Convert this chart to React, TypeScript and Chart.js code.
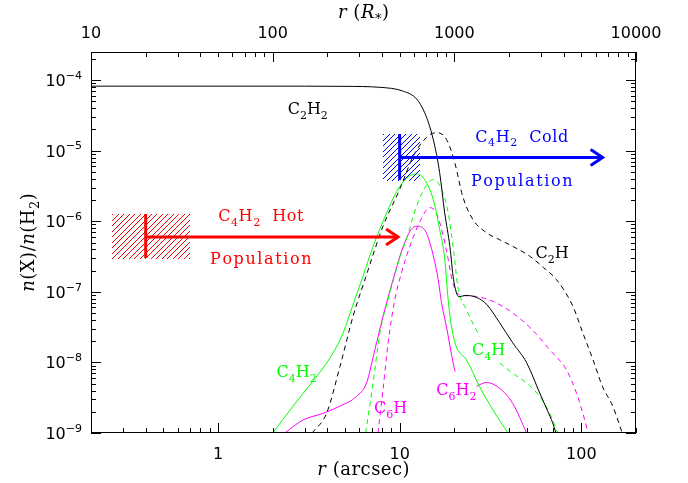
import React, { useEffect, useRef } from 'react';
import { Chart, registerables } from 'chart.js';

Chart.register(...registerables);

// ---- data (x: r in arcsec, y: n(X)/n(H2)) ----
const C2H2_X = [0.2, 1, 3, 5, 7.8, 10.4, 12.4, 13.7, 14.6, 15.6, 16.6, 17.7, 18.9, 19.8, 21.2, 23, 26.6, 30.2, 35.5, 41.9, 50, 59, 65, 69.5, 72.5];
const C2H2_Y = [8.2e-5, 8.2e-5, 8.2e-5, 8.15e-5, 7.9e-5, 7.0e-5, 5.4e-5, 3.5e-5, 2.25e-5, 1.17e-5, 4.9e-6, 1.32e-6, 4.4e-7, 1.5e-7, 8.5e-8, 8.9e-8, 8.3e-8, 6.6e-8, 3.65e-8, 1.9e-8, 9.9e-9, 3.7e-9, 2.1e-9, 1.4e-9, 1e-9];

const C2H_X = [3.3, 3.96, 4.69, 5.54, 6.5, 8.1, 10.0, 11.9, 14.0, 15.9, 18.1, 20.1, 22.3, 25.3, 30, 35.4, 42, 52, 62, 73, 90, 102, 116, 131, 149, 168];
const C2H_Y = [1e-9, 1.9e-9, 8.7e-9, 4.5e-8, 1.6e-7, 8.5e-7, 2.83e-6, 8.4e-6, 1.53e-5, 1.8e-5, 1.45e-5, 6.8e-6, 2.2e-6, 1.06e-6, 6.9e-7, 5.5e-7, 4.4e-7, 3.2e-7, 2.2e-7, 1.49e-7, 6.2e-8, 2.6e-8, 1.09e-8, 4.5e-9, 2.4e-9, 1e-9];

const C4H2_X = [2.0, 2.59, 3.34, 4.13, 4.88, 5.54, 6.3, 7.11, 8.5, 9.64, 10.9, 12.4, 13.7, 15.3, 16.6, 17.7, 18.5, 19.3, 20.5, 23.3, 27.6, 32.7, 39.5];
const C4H2_Y = [1e-9, 2.4e-9, 5.5e-9, 1.15e-8, 2.6e-8, 6.6e-8, 1.7e-7, 4.25e-7, 1.33e-6, 2.65e-6, 4.05e-6, 4.7e-6, 3.9e-6, 2.04e-6, 7.7e-7, 3.0e-7, 7.7e-8, 3.2e-8, 1.68e-8, 1.09e-8, 4.5e-9, 2.1e-9, 1e-9];

const C4H_X = [6.5, 7.14, 7.78, 8.83, 10.2, 10.9, 12.4, 14.0, 15.3, 17.0, 18.5, 19.9, 20.9, 23.3, 27.6, 31, 35.5, 42, 50, 59, 65.7, 70.9, 74];
const C4H_Y = [1e-9, 5.1e-9, 2.6e-8, 9.6e-8, 3.5e-7, 5.6e-7, 1.64e-6, 3.2e-6, 3.9e-6, 2.83e-6, 1.32e-6, 3.5e-7, 1.19e-7, 5.6e-8, 2.33e-8, null, 9.8e-9, 7.0e-9, 5.1e-9, 3.3e-9, 2.1e-9, 1.37e-9, 1e-9];

const C6H2_X = [2.33, 2.94, 3.79, 4.69, 5.79, 6.57, 7.3, 8.1, 9.2, 10.4, 11.6, 12.7, 14.0, 15.3, 16.3, 17.0, 18.1, 19.7, 20.2, 23, 26.5, 30, 35.5, 42, 50];
const C6H2_Y = [1e-9, 1.53e-9, 1.9e-9, 2.4e-9, 3.3e-9, 5.1e-9, 1.5e-8, 4.5e-8, 1.49e-7, 4.2e-7, 7.7e-7, 8.5e-7, 6.9e-7, 3.3e-7, 1.49e-7, 7e-8, 3.2e-8, 9.8e-9, 7.4e-9, null, 4.6e-9, 5.2e-9, 4.3e-9, 2.6e-9, 1e-9];

const C6H_X = [7.6, 8.1, 8.64, 9.4, 10.2, 10.9, 11.9, 13.1, 14.6, 15.9, 17.2, 18.5, 19.3, 20.5, 21.5, 26.5, 32.7, 42, 53.7, 67, 82.7, 94, 102, 109];
const C6H_Y = [1e-9, 4.1e-9, 1.88e-8, 7.7e-8, 1.8e-7, 3.2e-7, 6e-7, 1.06e-6, 1.56e-6, 1.32e-6, 6.9e-7, 2.9e-7, 1.6e-7, 1.0e-7, 9.1e-8, 8.6e-8, 7.3e-8, 5.0e-8, 2.9e-8, 1.51e-8, 7.9e-9, 3.7e-9, 1.9e-9, 1e-9];

// axis ranges & ticks
const X_MIN = 0.2, X_MAX = 200;
const Y_MIN = 1e-9, Y_MAX = 2.5e-4;
const X_TICK_LABELS = [1, 10, 100];
const Y_TICK_EXPONENTS = [-9, -8, -7, -6, -5, -4];
const TOP_TICK_LABELS = [10, 100, 1000, 10000]; // r (R*)
const RSTAR_PER_ARCSEC = 50;

// C4H2 population markers (data coordinates)
const HOT_BAR_X = 0.4, HOT_BOX_X = [0.26, 0.70], HOT_BOX_Y = [3.0e-7, 1.25e-6], HOT_ARROW_Y = 6.0e-7, HOT_TIP_X = 9.8;
const COLD_BAR_X = 10, COLD_BOX_X = [8.1, 12.9], COLD_BOX_Y = [3.9e-6, 1.7e-5], COLD_ARROW_Y = 8e-6, COLD_TIP_X = 131;

type Seg = { t: string; s?: 'sub' | 'sup'; it?: boolean };

const SERIF = '"DejaVu Serif", serif';
const SANS = '"DejaVu Sans", sans-serif';
const GREEN = '#00ff00', MAGENTA = '#ff00ff', RED = '#ff0000', BLUE = '#0000ff';

function segFont(seg: Seg, size: number, fam: string) {
  const sz = seg.s ? Math.round(size * 0.7) : size;
  return `${seg.it ? 'italic ' : ''}${sz}px ${fam}`;
}

function drawRich(ctx: CanvasRenderingContext2D, segs: Seg[], x: number, y: number, size: number, fam: string, color: string, align: 'left' | 'center' | 'right', sp = 0) {
  ctx.save();
  ctx.textBaseline = 'alphabetic';
  ctx.textAlign = 'left';
  ctx.fillStyle = color;
  let total = 0;
  const parts: { ch: string; font: string; w: number; dy: number }[] = [];
  for (const seg of segs) {
    const font = segFont(seg, size, fam);
    ctx.font = font;
    const dy = seg.s === 'sub' ? size * 0.3 : seg.s === 'sup' ? -size * 0.45 : 0;
    for (const ch of seg.t) {
      const w = ctx.measureText(ch).width + sp;
      parts.push({ ch, font, w, dy });
      total += w;
    }
  }
  if (sp) total -= sp;
  let cx = align === 'center' ? x - total / 2 : align === 'right' ? x - total : x;
  for (const p of parts) {
    ctx.font = p.font;
    ctx.fillText(p.ch, cx, y + p.dy);
    cx += p.w;
  }
  ctx.restore();
}

const overlay = {
  id: 'overlay',
  afterDatasetsDraw(chart: any) {
    const ctx: CanvasRenderingContext2D = chart.ctx;
    const { left, right, top, bottom } = chart.chartArea;
    const xs = chart.scales.x, ys = chart.scales.y;
    const px = (v: number) => xs.getPixelForValue(v);
    const py = (v: number) => ys.getPixelForValue(v);

    ctx.save();
    ctx.setLineDash([]);
    ctx.globalAlpha = 1;

    // --- population markers ---
    const marker = (color: string, barX: number, boxX: number[], boxY: number[], arrowY: number, tipX: number) => {
      const x0 = Math.round(px(boxX[0])), x1 = Math.round(px(boxX[1]));
      const y0 = Math.round(py(boxY[1])), y1 = Math.round(py(boxY[0]));
      ctx.fillStyle = color;
      const h = y1 - y0;
      // crisp single-pixel hatch lines ("/")
      for (let c = x0 - h; c < x1; c += 5.5) {
        for (let t = 0; t <= h; t++) {
          const xx = Math.round(c + t);
          if (xx < x0 || xx >= x1) continue;
          ctx.fillRect(xx, y1 - t, 1, 1);
        }
      }
      ctx.strokeStyle = color;
      ctx.lineWidth = 3;
      const bx = px(barX);
      ctx.beginPath();
      ctx.moveTo(bx, y0);
      ctx.lineTo(bx, y1);
      ctx.stroke();
      const ay = py(arrowY), tx = px(tipX);
      ctx.beginPath();
      ctx.moveTo(bx, ay);
      ctx.lineTo(tx, ay);
      ctx.stroke();
      ctx.beginPath();
      ctx.moveTo(tx - 12, ay - 8);
      ctx.lineTo(tx, ay);
      ctx.lineTo(tx - 12, ay + 8);
      ctx.stroke();
    };
    marker(RED, HOT_BAR_X, HOT_BOX_X, HOT_BOX_Y, HOT_ARROW_Y, HOT_TIP_X);
    marker(BLUE, COLD_BAR_X, COLD_BOX_X, COLD_BOX_Y, COLD_ARROW_Y, COLD_TIP_X);

    // --- curve / marker labels ---
    const lab = (segs: Seg[], x: number, y: number, color: string, sp = 0) =>
      drawRich(ctx, segs, px(x), py(y) + 6, 16, SERIF, color, 'center', sp);
    lab([{ t: 'C' }, { t: '2', s: 'sub' }, { t: 'H' }, { t: '2', s: 'sub' }], 3.12, 4.0e-5, '#000');
    lab([{ t: 'C' }, { t: '2', s: 'sub' }, { t: 'H' }], 69, 3.7e-7, '#000');
    lab([{ t: 'C' }, { t: '4', s: 'sub' }, { t: 'H' }, { t: '2', s: 'sub' }], 2.71, 7.6e-9, GREEN);
    lab([{ t: 'C' }, { t: '4', s: 'sub' }, { t: 'H' }], 30.9, 1.56e-8, GREEN);
    lab([{ t: 'C' }, { t: '6', s: 'sub' }, { t: 'H' }], 8.93, 2.34e-9, MAGENTA);
    lab([{ t: 'C' }, { t: '6', s: 'sub' }, { t: 'H' }, { t: '2', s: 'sub' }], 20.5, 4.2e-9, MAGENTA);
    lab([{ t: 'C' }, { t: '4', s: 'sub' }, { t: 'H' }, { t: '2', s: 'sub' }, { t: '  Cold' }], 47, 1.63e-5, BLUE, 0.6);
    lab([{ t: 'Population' }], 47, 3.9e-6, BLUE, 1.6);
    lab([{ t: 'C' }, { t: '4', s: 'sub' }, { t: 'H' }, { t: '2', s: 'sub' }, { t: '  Hot' }], 1.72, 1.21e-6, RED, 0.6);
    lab([{ t: 'Population' }], 1.72, 3.06e-7, RED, 1.6);

    // --- frame ---
    ctx.strokeStyle = '#000';
    ctx.lineWidth = 1;
    ctx.strokeRect(left + 0.5, top + 0.5, right - left - 1, bottom - top - 1);

    // --- ticks ---
    ctx.beginPath();
    const MAJ = 10, MIN = 5;
    for (let d = -9; d <= -4; d++) {
      for (let k = 1; k <= 9; k++) {
        const v = k * Math.pow(10, d);
        if (v < Y_MIN * 0.999 || v > Y_MAX * 1.001) continue;
        const yy = Math.round(py(v)) + 0.5;
        const len = k === 1 ? MAJ : MIN;
        ctx.moveTo(left, yy); ctx.lineTo(left + len, yy);
        ctx.moveTo(right, yy); ctx.lineTo(right - len, yy);
      }
    }
    for (let d = -1; d <= 2; d++) {
      for (let k = 1; k <= 9; k++) {
        const v = k * Math.pow(10, d);
        if (v < X_MIN * 0.999 || v > X_MAX * 1.001) continue;
        const xx = Math.round(px(v)) + 0.5;
        const len = k === 1 ? MAJ : MIN;
        ctx.moveTo(xx, bottom); ctx.lineTo(xx, bottom - len);
      }
    }
    for (let d = 1; d <= 4; d++) {
      for (let k = 1; k <= 9; k++) {
        const r = k * Math.pow(10, d);
        const v = r / RSTAR_PER_ARCSEC;
        if (v < X_MIN * 0.999 || v > X_MAX * 1.001) continue;
        const xx = Math.round(px(v)) + 0.5;
        const len = k === 1 ? MAJ : MIN;
        ctx.moveTo(xx, top); ctx.lineTo(xx, top + len);
      }
    }
    ctx.stroke();

    // --- tick labels ---
    for (const e of Y_TICK_EXPONENTS) {
      const yy = py(Math.pow(10, e));
      drawRich(ctx, [{ t: '10' }, { t: '\u2212' + Math.abs(e), s: 'sup' }], 82, yy + 6, 16, SANS, '#000', 'right');
    }
    for (const v of X_TICK_LABELS) {
      drawRich(ctx, [{ t: String(v) }], px(v), 458.5, 16, SANS, '#000', 'center');
    }
    for (const r of TOP_TICK_LABELS) {
      drawRich(ctx, [{ t: String(r) }], px(r / RSTAR_PER_ARCSEC), 37.5, 16, SANS, '#000', 'center');
    }

    // --- axis titles ---
    const cx = (left + right) / 2;
    drawRich(ctx, [{ t: 'r', it: true }, { t: ' (arcsec)' }], cx, 475, 18, SERIF, '#000', 'center', 0.5);
    drawRich(ctx, [{ t: 'r', it: true }, { t: ' (' }, { t: 'R', it: true }, { t: '*', s: 'sub' }, { t: ')' }], cx, 18, 18, SERIF, '#000', 'center', 0.5);
    ctx.save();
    ctx.translate(34, (top + bottom) / 2);
    ctx.rotate(-Math.PI / 2);
    drawRich(ctx, [{ t: 'n', it: true }, { t: '(X)/' }, { t: 'n', it: true }, { t: '(H' }, { t: '2', s: 'sub' }, { t: ')' }], 0, 0, 18, SERIF, '#000', 'center', 0.5);
    ctx.restore();

    ctx.restore();
  },
};

export default function App() {
  const ref = useRef<HTMLCanvasElement>(null);
  useEffect(() => {
    document.body.style.margin = '0';
    const canvas = ref.current!;
    const mk = (xs: number[], ys: (number | null)[]) => xs.map((x, i) => ({ x, y: ys[i] }));
    const chart = new Chart(canvas, {
      type: 'line',
      data: {
        datasets: [
          { data: mk(C2H2_X, C2H2_Y), borderColor: '#000000', borderWidth: 1 },
          { data: mk(C2H_X, C2H_Y), borderColor: '#000000', borderWidth: 1, borderDash: [5, 4] },
          { data: mk(C4H2_X, C4H2_Y), borderColor: GREEN, borderWidth: 1 },
          { data: mk(C4H_X, C4H_Y), borderColor: GREEN, borderWidth: 1, borderDash: [5, 4] },
          { data: mk(C6H2_X, C6H2_Y), borderColor: MAGENTA, borderWidth: 1 },
          { data: mk(C6H_X, C6H_Y), borderColor: MAGENTA, borderWidth: 1, borderDash: [5, 4] },
        ] as any,
      },
      options: {
        animation: false,
        responsive: false,
        devicePixelRatio: 1,
        layout: { padding: { left: 91, top: 52, right: 52, bottom: 50 } },
        plugins: { legend: { display: false }, tooltip: { enabled: false } },
        elements: { point: { radius: 0 }, line: { cubicInterpolationMode: 'monotone', fill: false } },
        scales: {
          x: { type: 'logarithmic', min: X_MIN, max: X_MAX, display: false },
          y: { type: 'logarithmic', min: Y_MIN, max: Y_MAX, display: false },
        },
      } as any,
      plugins: [overlay],
    });
    return () => chart.destroy();
  }, []);
  return (
    <div style={{ position: 'absolute', left: 0, top: 0, width: 688, height: 483, background: '#fff' }}>
      <canvas ref={ref} width={688} height={483} style={{ display: 'block' }} />
    </div>
  );
}
